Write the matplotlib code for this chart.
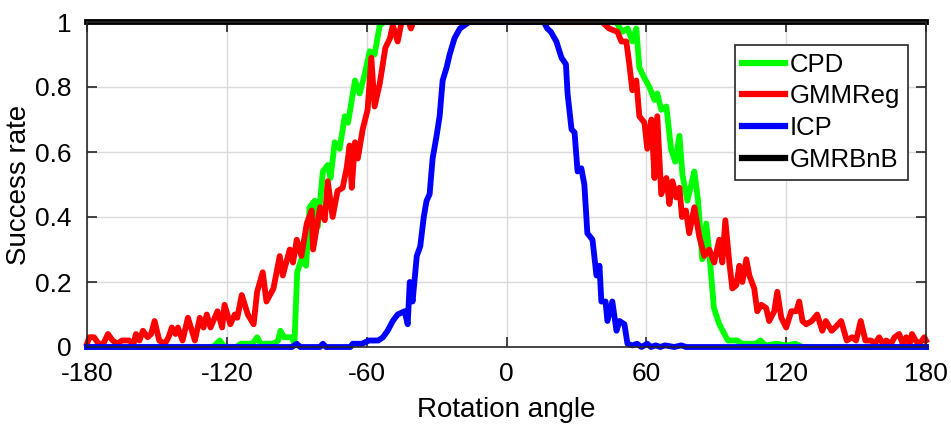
import numpy as np
import matplotlib
matplotlib.use("Agg")
import matplotlib.pyplot as plt

plt.rcParams["font.family"] = ["Liberation Sans", "DejaVu Sans"]
plt.rcParams["axes.unicode_minus"] = False

# success rate, per method (angle in degrees, rate)
cpd_ang = [-180, -126, -123, -121, -116, -114, -109, -107, -105.5, -100, -98, -97, -95.5, -92, -91,
           -89.8, -88, -86, -84.5, -82.3, -81, -78.8, -76.7, -75.5, -73.7, -71.6, -69.4, -68, -65,
           -63, -60.8, -58.7, -56.6, -54.4, -52.3, 47, 49.7, 52, 54, 55.7, 57, 59, 61.3, 63.5, 64.7,
           66.4, 68.6, 70.6, 72.4, 74.2, 75.5, 77.6, 79.3, 80.6, 82.2, 84, 85.7, 87, 89, 91.3, 93.5,
           95, 99, 101, 107, 109, 111, 116, 120, 124, 127, 180]
cpd_val = [0, 0, 0.02, 0, 0, 0.01, 0.01, 0.03, 0.01, 0.01, 0.02, 0.05, 0.03, 0.03, 0.01,
           0.23, 0.27, 0.25, 0.43, 0.45, 0.37, 0.54, 0.56, 0.52, 0.63, 0.61, 0.71, 0.69, 0.82,
           0.78, 0.84, 0.91, 0.90, 0.99, 1.0, 1.0, 0.97, 0.98, 0.94, 0.98, 0.86, 0.83, 0.80, 0.76, 0.78,
           0.73, 0.74, 0.61, 0.57, 0.65, 0.53, 0.45, 0.50, 0.54, 0.45, 0.27, 0.38, 0.29, 0.12, 0.07, 0.04,
           0.02, 0.02, 0.01, 0.01, 0.02, 0.005, 0.01, 0.005, 0.01, 0, 0]

gmm_ang = [-180, -179, -177, -175, -173, -171, -169, -167, -165, -162, -160, -159, -157.5, -156, -154,
           -152.5, -151, -149, -146.6, -145, -143.6, -142, -141, -139, -136.7, -135, -133.7, -131.6,
           -130, -128.6, -127, -124, -122, -121, -118.5, -116.6, -115.5, -113.6, -111, -108.5, -107,
           -104.6, -103, -100, -97.3, -96, -93, -91.6, -90, -88, -85.7, -83.6, -83, -80, -78, -76.7,
           -74.6, -72.5, -70.3, -68.6, -67.3, -66.4, -65, -63.8, -61.7, -59.6, -58, -56.6, -54.4, -52,
           -50, -48.8, -46.7, -45, -42, -41, -40, 41, 44, 47.6, 49.3, 51.4, 52.7, 54, 55.7, 57, 59.2,
           60.4, 62.2, 63.5, 64.7, 66.4, 68.6, 69.9, 71.2, 72.9, 74.2, 75.3, 77, 78.4, 80.6, 82.7, 84.9,
           87, 89.1, 91.3, 92.6, 93.9, 95.6, 96.9, 98.6, 99.9, 101.2, 102.9, 104.2, 106.3, 107.6, 109.3,
           111.4, 112.7, 114.9, 116.2, 117.9, 120, 122.2, 124.3, 125.6, 127, 128.6, 131, 133.3, 135.5,
           137, 139.5, 141, 143.6, 146, 148.3, 150, 152, 154, 156.4, 158, 159.9, 161.5, 162.9, 165,
           166.5, 168.5, 170, 171.5, 173, 174, 175.5, 177, 178.3, 179.3, 180]
gmm_val = [0.01, 0.03, 0.03, 0.01, 0.01, 0.04, 0.02, 0.01, 0.02, 0.02, 0.01, 0.04, 0.02, 0.05, 0.03,
           0.04, 0.08, 0.02, 0.01, 0.03, 0.06, 0.04, 0.06, 0.02, 0.09, 0.05, 0.02, 0.09,
           0.06, 0.10, 0.06, 0.11, 0.06, 0.13, 0.07, 0.10, 0.09, 0.16, 0.10, 0.07, 0.17,
           0.23, 0.14, 0.18, 0.28, 0.22, 0.30, 0.26, 0.33, 0.28, 0.38, 0.42, 0.30, 0.43, 0.39, 0.51,
           0.40, 0.48, 0.49, 0.55, 0.62, 0.49, 0.63, 0.58, 0.67, 0.73, 0.89, 0.74, 0.81, 0.92,
           0.95, 0.99, 0.94, 1.0, 1.0, 0.98, 1.0, 1.0, 0.98, 0.97, 0.94, 0.94, 0.87, 0.79, 0.82, 0.71, 0.69,
           0.61, 0.70, 0.52, 0.71, 0.47, 0.52, 0.44, 0.51, 0.46, 0.49, 0.40, 0.42, 0.35, 0.43, 0.34, 0.28,
           0.30, 0.26, 0.33, 0.26, 0.39, 0.26, 0.18, 0.19, 0.25, 0.20, 0.27, 0.22, 0.18, 0.11, 0.13,
           0.12, 0.08, 0.11, 0.17, 0.09, 0.06, 0.11, 0.11, 0.14, 0.08, 0.07, 0.08, 0.10, 0.05,
           0.08, 0.05, 0.06, 0.08, 0.02, 0.03, 0.02, 0.08, 0.02, 0.02, 0.01, 0.03, 0.01, 0.02, 0.01,
           0.03, 0.04, 0.01, 0.03, 0.01, 0.04, 0.02, 0.01, 0.02, 0.03, 0.02]

icp_ang = [-180, -92, -90, -88.5, -80, -78.8, -77.5, -67, -66, -62, -59, -55, -53, -51, -48.8, -46.7,
           -43.7, -42.4, -41.5, -40.3, -38.5, -37, -35.5, -34.3, -33, -31.7, -30, -28.7, -27.4, -25.7,
           -24.4, -22.3, -20, -18, -16, 16, 17.5, 19, 21.4, 23.6, 25.5, 26.2, 27.9, 29.2, 30.5, 32.1,
           33.4, 34.7, 36.9, 38.6, 39.9, 40.7, 42.5, 43.3, 45.4, 47.2, 48.5, 50.6, 51.9, 54, 56, 57.9,
           60.4, 62, 64, 66, 68, 72, 75, 77, 180]
icp_val = [0, 0, 0.01, 0, 0, 0.01, 0, 0, 0.01, 0.01, 0.02, 0.02, 0.03, 0.05, 0.08, 0.10,
           0.11, 0.07, 0.20, 0.14, 0.28, 0.31, 0.40, 0.45, 0.47, 0.58, 0.65, 0.71, 0.82, 0.86,
           0.90, 0.95, 0.98, 0.99, 1.0, 1.0, 0.98, 0.97, 0.94, 0.89, 0.87, 0.78, 0.67, 0.66, 0.54, 0.55,
           0.50, 0.35, 0.33, 0.22, 0.25, 0.14, 0.14, 0.08, 0.14, 0.05, 0.08, 0.07, 0.01, 0.005, 0.01, 0.0,
           0.01, 0.0, 0.005, 0, 0.005, 0, 0.005, 0, 0]

bnb_ang = [-180, 180]
bnb_val = [1, 1]

xticks = [-180, -120, -60, 0, 60, 120, 180]
yticks = [0, 0.2, 0.4, 0.6, 0.8, 1]
ytick_labels = ["0", "0.2", "0.4", "0.6", "0.8", "1"]

fig = plt.figure(figsize=(9.51, 4.30), dpi=100)
ax = fig.add_axes([87 / 951, 83 / 430, 839 / 951, 325 / 430])
lw = 4.2
ax.plot(cpd_ang, cpd_val, color="#00ff00", lw=lw, label="CPD", clip_on=False, solid_joinstyle="round")
ax.plot(gmm_ang, gmm_val, color="#ff0000", lw=lw, label="GMMReg", clip_on=False, solid_joinstyle="round")
ax.plot(icp_ang, icp_val, color="#0000ff", lw=lw, label="ICP", clip_on=False, solid_joinstyle="round")
ax.plot(bnb_ang, bnb_val, color="#000000", lw=lw, label="GMRBnB", clip_on=False)

ax.set_xlim(-180, 180); ax.set_ylim(0, 1)
ax.set_xticks(xticks); ax.set_xticklabels([str(t) for t in xticks])
ax.set_yticks(yticks); ax.set_yticklabels(ytick_labels)
ax.grid(True, color="#dadada", lw=1.0)
ax.set_axisbelow(True)
for s in ax.spines.values():
    s.set_color("#262626"); s.set_linewidth(1.2)
ax.tick_params(direction="in", length=7, width=1.2, color="#262626", labelsize=19,
               top=True, right=True, pad=11)
ax.set_xlabel("Rotation angle", fontsize=20, labelpad=8)
ax.set_ylabel("Success rate", fontsize=20)
ax.yaxis.set_label_coords(-0.066, 0.5)

leg = ax.legend(loc="upper right", bbox_to_anchor=(0.9785, 0.929), borderaxespad=0, fontsize=18.5,
                handlelength=1.65, handletextpad=0.2, labelspacing=0.3, borderpad=0.3,
                fancybox=False, framealpha=1)
leg.get_frame().set_edgecolor("#262626"); leg.get_frame().set_linewidth(1.2)
for h in leg.get_lines():
    h.set_linewidth(4.5)

fig.savefig("out.png", dpi=100)
